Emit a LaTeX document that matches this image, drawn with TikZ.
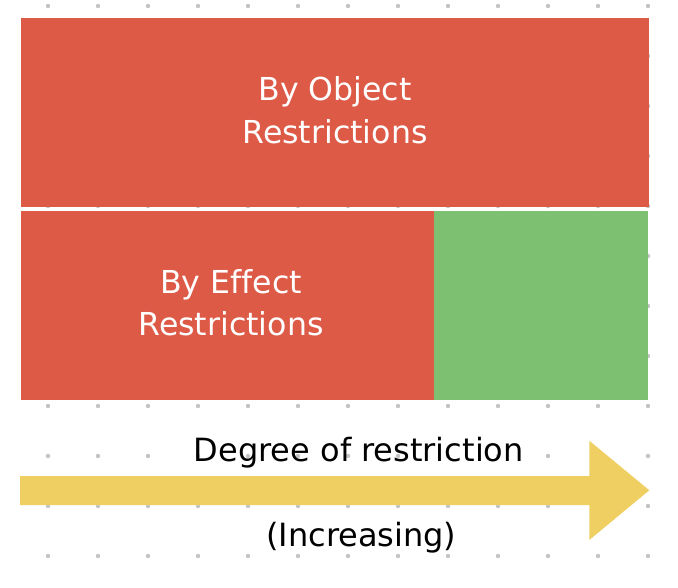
\documentclass[tikz,border=0pt]{standalone}
\usepackage{fontspec}
\setmainfont[Ligatures=NoCommon]{DejaVu Sans}
\definecolor{boxred}{HTML}{DD5A46}
\definecolor{boxgreen}{HTML}{7EC071}
\definecolor{arrowyellow}{HTML}{EFCF61}
\definecolor{dotgray}{HTML}{C4C4C4}
\begin{document}
\begin{tikzpicture}[x=1pt,y=-1pt,
  panel/.style={fill=#1,draw=none},
  whitetext/.style={text=white,anchor=base,inner sep=0pt,font=\fontsize{31.6}{38}\selectfont},
  blacktext/.style={text=black,anchor=base,inner sep=0pt,font=\fontsize{32}{38}\selectfont}]
\useasboundingbox (0,0) rectangle (678,588);
% dot grid
\foreach \gx in {48,98,...,648}
  \foreach \gy in {6,56,...,556}
    \fill[dotgray] (\gx,\gy) circle (2.2);
% panels
\path[panel=boxred] (21,18) rectangle (649,207);
\path[panel=boxred] (21,211) rectangle (434,400);
\path[panel=boxgreen] (434,211) rectangle (648,400);
% arrow
\fill[arrowyellow] (20,476) -- (589.3,476) -- (589.3,440.7) -- (649.3,490.3)
  -- (589.3,540) -- (589.3,505) -- (20,505) -- cycle;
% labels
\node[whitetext] (obj1) at (335,100.7) {By Object};
\node[whitetext] (obj2) at (335,144) {Restrictions};
\node[whitetext] (eff1) at (231,293.3) {By Effect};
\node[whitetext] (eff2) at (231,336) {Restrictions};
\node[blacktext] (deg) at (358.8,461) {Degree of restriction};
\node[blacktext] (inc) at (361.3,546) {(Increasing)};
\end{tikzpicture}
\end{document}
